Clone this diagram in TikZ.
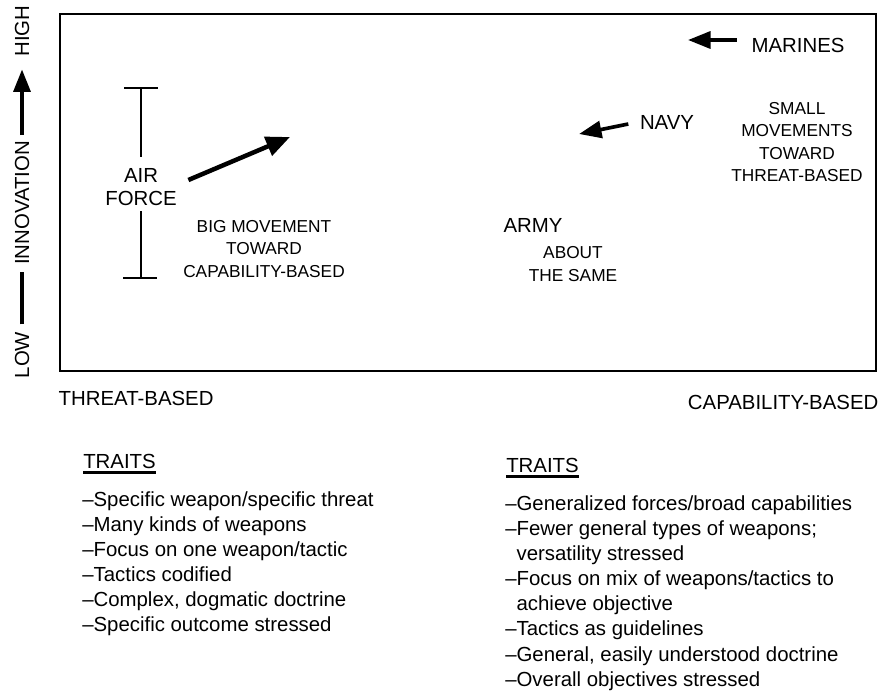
\documentclass[tikz,border=0pt]{standalone}
\usepackage{fontspec}
\setmainfont{Liberation Sans}
\usetikzlibrary{arrows.meta}
\tikzstyle{service} = [font=\fontsize{14.5}{16}\selectfont, align=center, inner sep=1pt]
\tikzstyle{boxtext} = [font=\fontsize{12.3}{15.8}\selectfont, align=center, inner sep=1pt]
\tikzstyle{axislabel} = [font=\fontsize{14.5}{16}\selectfont, rotate=90, inner sep=1pt]
\tikzstyle{traits} = [font=\fontsize{14.5}{17.9}\selectfont, align=left,
    anchor=north west, inner sep=0pt]
\tikzstyle{heading} = [font=\fontsize{14.5}{16}\selectfont, anchor=west, inner sep=0pt]
\tikzstyle{line} = [draw, line width=1.5pt]
\tikzstyle{bigmove} = [draw, line width=3.2pt, -{Triangle[length=17pt, width=14pt]}]
\tikzstyle{smallmove} = [draw, line width=2.6pt, -{Triangle[length=16pt, width=12pt]}]

\begin{document}
\begin{tikzpicture}[x=0.025cm, y=-0.025cm]
    \useasboundingbox (0,0) rectangle (885,691);
    \draw [line, line width=1.6pt] (60,14) rectangle (876,371);

    % Place nodes
    \node [axislabel] (low) at (22,355) {LOW};
    \node [axislabel] (innovation) at (22,203) {INNOVATION};
    \node [axislabel] (high) at (22,31) {HIGH};

    \node [service] (airforce) at (141,187) {AIR\\FORCE};
    \coordinate (bartop) at (141,88);
    \coordinate (barbottom) at (141,278);
    \coordinate (aftip) at (290,137);
    \node [boxtext] (bigmove) at (264,249) {BIG MOVEMENT\\TOWARD\\CAPABILITY-BASED};

    \node [service] (army) at (533,225) {ARMY};
    \node [boxtext] (same) at (573,264) {ABOUT\\THE SAME};

    \node [service] (navy) at (667,122) {NAVY};
    \coordinate (navytip) at (579,134);
    \node [service] (marines) at (798,45) {MARINES};
    \coordinate (marinestip) at (688,40);
    \node [boxtext] (smallmove) at (797,142) {SMALL\\MOVEMENTS\\TOWARD\\THREAT-BASED};

    \node [service, anchor=west] (threat) at (57,398) {THREAT-BASED};
    \node [service, anchor=east] (capability) at (880,402) {CAPABILITY-BASED};

    \node [heading] (traitsleft) at (83,461) {TRAITS};
    \node [traits] (listleft) at (82,491) {\textendash Specific weapon/specific threat\\
        \textendash Many kinds of weapons\\
        \textendash Focus on one weapon/tactic\\
        \textendash Tactics codified\\
        \textendash Complex, dogmatic doctrine\\
        \textendash Specific outcome stressed};
    \node [heading] (traitsright) at (506,465) {TRAITS};
    \node [traits] (listright) at (505,495) {\textendash Generalized forces/broad capabilities\\
        \textendash Fewer general types of weapons;\\
        \phantom{\textendash}versatility stressed\\
        \textendash Focus on mix of weapons/tactics to\\
        \phantom{\textendash}achieve objective\\
        \textendash Tactics as guidelines\\
        \textendash General, easily understood doctrine\\
        \textendash Overall objectives stressed};

    % Draw edges
    \path [line, line width=2.6pt, shorten <=4pt, shorten >=4pt] (low) -- (innovation);
    \path [line, line width=2.6pt, shorten <=3pt, shorten >=8pt,
        -{Triangle[length=16pt, width=12pt]}] (innovation) -- (high);

    \path [line] (bartop) -- (airforce.north) [shorten >=7pt];
    \path [line, shorten <=3pt] (airforce.south) -- (barbottom);
    \path [line] (bartop) +(-17,0) -- +(17,0);
    \path [line] (barbottom) +(-18,0) -- +(16,0);
    \path [bigmove] ([shift={(10,-7)}]airforce.east) -- (aftip);
    \path [smallmove] ([shift={(-10,2)}]navy.west) -- (navytip);
    \path [smallmove] ([shift={(-13,-5)}]marines.west) -- (marinestip);
    \draw [line width=2pt] ([yshift=-3pt]traitsleft.base west) -- ([yshift=-3pt]traitsleft.base east);
    \draw [line width=2pt] ([yshift=-3pt]traitsright.base west) -- ([yshift=-3pt]traitsright.base east);
\end{tikzpicture}
\end{document}
